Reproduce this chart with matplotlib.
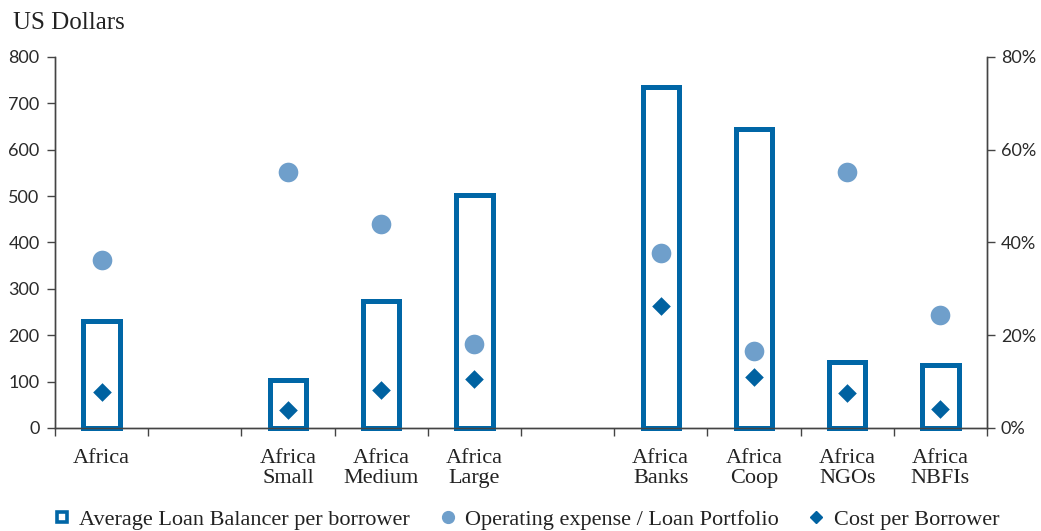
import numpy as np
import matplotlib
matplotlib.use("Agg")
import matplotlib.pyplot as plt
from matplotlib.lines import Line2D
from matplotlib.ticker import PercentFormatter

# None marks an empty slot between groups
categories = ["Africa", None, "Africa\nSmall", "Africa\nMedium", "Africa\nLarge",
              None, "Africa\nBanks", "Africa\nCoop", "Africa\nNGOs", "Africa\nNBFIs"]
avg_loan = [230, None, 104, 273, 503, None, 734, 644, 143, 136]          # USD
opex_ratio = [36.2, None, 55.2, 44.0, 18.1, None, 37.7, 16.6, 55.2, 24.4]  # %
cost_per_borrower = [78, None, 39, 82, 105, None, 262, 109, 75, 40]        # USD

BAR_BLUE = "#0066a6"
DOT_BLUE = "#6f9fcb"
DIA_BLUE = "#0062a1"
AXIS_GREY = "#444444"
SERIF = "Liberation Serif"
SANS = "Lato"

x = np.arange(len(categories))
loan = np.array([np.nan if v is None else v for v in avg_loan], dtype=float)
opex = np.array([np.nan if v is None else v for v in opex_ratio], dtype=float)
cost = np.array([np.nan if v is None else v for v in cost_per_borrower], dtype=float)
has_bar = ~np.isnan(loan)

fig = plt.figure(figsize=(10.41, 5.31), dpi=100)
ax = fig.add_axes([0.0528, 0.194, 0.8953, 0.699])
ax2 = ax.twinx()

ax.bar(x[has_bar], loan[has_bar], width=0.39, fill=False, edgecolor=BAR_BLUE,
       linewidth=3.6, clip_on=False, zorder=2)
ax.scatter(x, cost, marker="D", s=90, color=DIA_BLUE, zorder=4, linewidths=0)
ax2.scatter(x, opex / 100, marker="o", s=200, color=DOT_BLUE, zorder=3,
            linewidths=0)

ax.set_xlim(-0.5, len(categories) - 0.5)
ax.set_ylim(0, 800)
ax.set_yticks(np.arange(0, 801, 100))
ax2.set_ylim(0, 0.8)
ax2.set_yticks(np.arange(0, 0.81, 0.2))
ax2.yaxis.set_major_formatter(PercentFormatter(1.0, decimals=0))

# separators between slots, labels centred in each slot
ax.set_xticks(np.arange(-0.5, len(categories), 1.0))
ax.set_xticklabels([])
ax.set_xticks(x, minor=True)
ax.set_xticklabels([c or "" for c in categories], minor=True,
                   fontfamily=SERIF, fontsize=16, color="#222222",
                   linespacing=1.05)
ax.tick_params(axis="x", which="major", length=6, width=1, color=AXIS_GREY,
               direction="out")
ax.tick_params(axis="x", which="minor", length=0, pad=15)

for a in (ax, ax2):
    a.tick_params(axis="y", length=6, width=1, color=AXIS_GREY,
                  labelsize=13, labelcolor="#2a2a2a")
    for lab in a.get_yticklabels():
        lab.set_fontfamily(SANS)
    a.spines["top"].set_visible(False)
    for s in ("left", "right", "bottom"):
        a.spines[s].set_color(AXIS_GREY)
        a.spines[s].set_linewidth(1)
ax.tick_params(axis="y", pad=5)
ax2.tick_params(axis="y", pad=4)
ax.set_zorder(ax2.get_zorder() + 1)
ax.patch.set_visible(False)

fig.text(0.0125, 0.957, "US Dollars", fontfamily=SERIF, fontsize=18,
         color="#222222", va="center", ha="left")

handles = [
    Line2D([], [], linestyle="none", marker="s", markersize=7.5,
           markerfacecolor="white", markeredgecolor=BAR_BLUE,
           markeredgewidth=2.6),
    Line2D([], [], linestyle="none", marker="o", markersize=8.5,
           color=DOT_BLUE),
    Line2D([], [], linestyle="none", marker="D", markersize=6.5,
           color=DIA_BLUE),
]
labels = ["Average Loan Balancer per borrower",
          "Operating expense / Loan Portfolio",
          "Cost per Borrower"]
fig.legend(handles, labels, loc="lower left", bbox_to_anchor=(0.032, -0.035),
           ncol=3, frameon=False, handlelength=0.8, handletextpad=0.37,
           columnspacing=1.3, prop={"family": SERIF, "size": 16},
           labelcolor="#222222")

fig.savefig("out.png", dpi=100)
